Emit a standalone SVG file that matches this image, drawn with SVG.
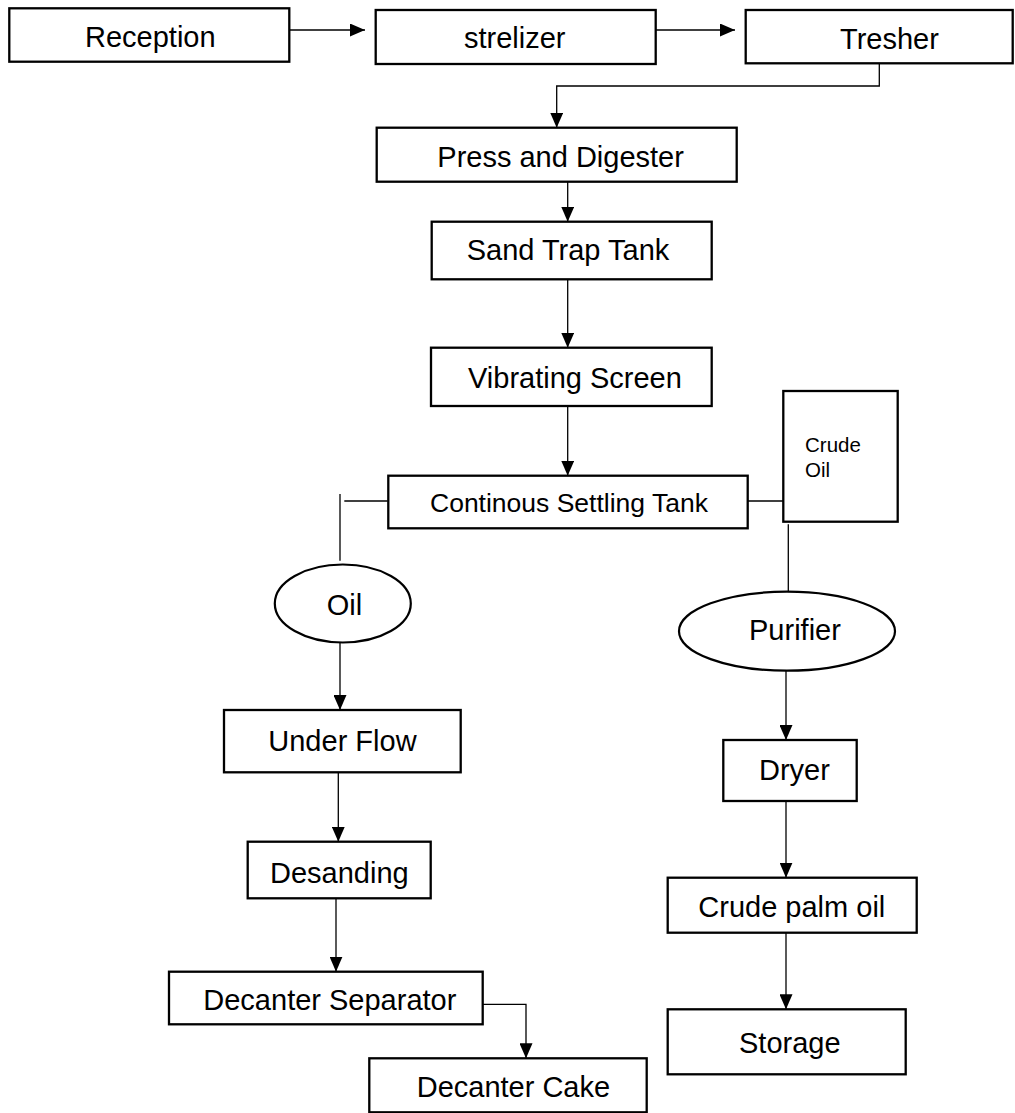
<svg xmlns="http://www.w3.org/2000/svg" width="1015" height="1113" viewBox="0 0 1015 1113">
<style>
.box{fill:#fff;stroke:#000;stroke-width:2.3}
.ell{fill:#fff;stroke:#000;stroke-width:2.2}
.t{font-family:"Liberation Sans",Arial,sans-serif;font-size:29px;fill:#000}
.s{font-size:20.5px}
.c{fill:none;stroke:#000;stroke-width:1.3}
</style>
<defs>
<marker id="ah" viewBox="0 0 15 13" refX="15" refY="6.5" markerWidth="15" markerHeight="13" orient="auto" markerUnits="userSpaceOnUse">
<path d="M0,0 L15,6.5 L0,13 Z" fill="#000"/>
</marker>
</defs>
<rect width="1015" height="1113" fill="#fff"/>
<g id="connectors">
<line class="c" x1="289.3" y1="30" x2="365" y2="30" marker-end="url(#ah)"/>
<line class="c" x1="655.7" y1="30" x2="735" y2="30" marker-end="url(#ah)"/>
<path class="c" d="M879.3,63.3 V86 H556.7 V127.7" marker-end="url(#ah)"/>
<line class="c" x1="567.7" y1="181.7" x2="567.7" y2="221.7" marker-end="url(#ah)"/>
<line class="c" x1="567.7" y1="279.3" x2="567.7" y2="347.7" marker-end="url(#ah)"/>
<line class="c" x1="567.7" y1="406" x2="567.7" y2="475.7" marker-end="url(#ah)"/>
<line class="c" x1="387.7" y1="501" x2="344.3" y2="501"/>
<line class="c" x1="340" y1="494" x2="340" y2="560.7"/>
<line class="c" x1="747.7" y1="501" x2="783.3" y2="501"/>
<line class="c" x1="788.3" y1="524.3" x2="788.3" y2="591.7"/>
<line class="c" x1="340" y1="642.7" x2="340" y2="710" marker-end="url(#ah)"/>
<line class="c" x1="338.3" y1="772.3" x2="338.3" y2="841.7" marker-end="url(#ah)"/>
<line class="c" x1="336" y1="898.3" x2="336" y2="971.7" marker-end="url(#ah)"/>
<path class="c" d="M482.7,1004.3 H526 V1058.3" marker-end="url(#ah)"/>
<line class="c" x1="786" y1="670.7" x2="786" y2="740" marker-end="url(#ah)"/>
<line class="c" x1="786" y1="801" x2="786" y2="877.7" marker-end="url(#ah)"/>
<line class="c" x1="786" y1="932.7" x2="786" y2="1009.3" marker-end="url(#ah)"/>
</g>
<g id="reception"><rect class="box" x="9.3" y="8.3" width="280" height="53.4"/><text class="t" x="85" y="46.7">Reception</text></g>
<g id="strelizer"><rect class="box" x="375.7" y="10" width="280" height="54"/><text class="t" x="464" y="48.3">strelizer</text></g>
<g id="tresher"><rect class="box" x="745.7" y="10" width="267" height="53.3"/><text class="t" x="840" y="49.3">Tresher</text></g>
<g id="press"><rect class="box" x="376.7" y="127.7" width="360" height="54"/><text class="t" x="437.3" y="167.3">Press and Digester</text></g>
<g id="sandtrap"><rect class="box" x="431.7" y="221.7" width="280" height="57.6"/><text class="t" x="466.7" y="260">Sand Trap Tank</text></g>
<g id="vibrating"><rect class="box" x="431" y="347.7" width="280.7" height="58.3"/><text class="t" x="468" y="388.3">Vibrating Screen</text></g>
<g id="settling"><rect class="box" x="388.3" y="475.7" width="359.4" height="52.6"/><text class="t" x="430" y="511.7" style="font-size:26.5px">Continous Settling Tank</text></g>
<g id="crudeoil"><rect class="box" x="783.3" y="391" width="114.4" height="130.7"/><text class="t s" x="805" y="451.7">Crude</text><text class="t s" x="805" y="476.7">Oil</text></g>
<g id="oil"><ellipse class="ell" cx="342.8" cy="603.5" rx="68" ry="39"/><text class="t" x="326.7" y="615">Oil</text></g>
<g id="purifier"><ellipse class="ell" cx="787" cy="631.2" rx="108" ry="39.5"/><text class="t" x="749" y="640">Purifier</text></g>
<g id="underflow"><rect class="box" x="224" y="710" width="236.7" height="62.3"/><text class="t" x="268.3" y="751">Under Flow</text></g>
<g id="desanding"><rect class="box" x="247.7" y="841.7" width="183" height="56.6"/><text class="t" x="270" y="882.5">Desanding</text></g>
<g id="decantersep"><rect class="box" x="169" y="971.7" width="313.7" height="52.6"/><text class="t" x="203.3" y="1010">Decanter Separator</text></g>
<g id="decantercake"><rect class="box" x="369.3" y="1058.3" width="277.4" height="54"/><text class="t" x="416.7" y="1096.7">Decanter Cake</text></g>
<g id="dryer"><rect class="box" x="723.3" y="740" width="133.4" height="61"/><text class="t" x="759" y="780">Dryer</text></g>
<g id="cpo"><rect class="box" x="667.7" y="877.7" width="249" height="55"/><text class="t" x="698.3" y="916.7">Crude palm oil</text></g>
<g id="storage"><rect class="box" x="667.7" y="1009.3" width="238" height="65"/><text class="t" x="739" y="1053.3">Storage</text></g>
</svg>
